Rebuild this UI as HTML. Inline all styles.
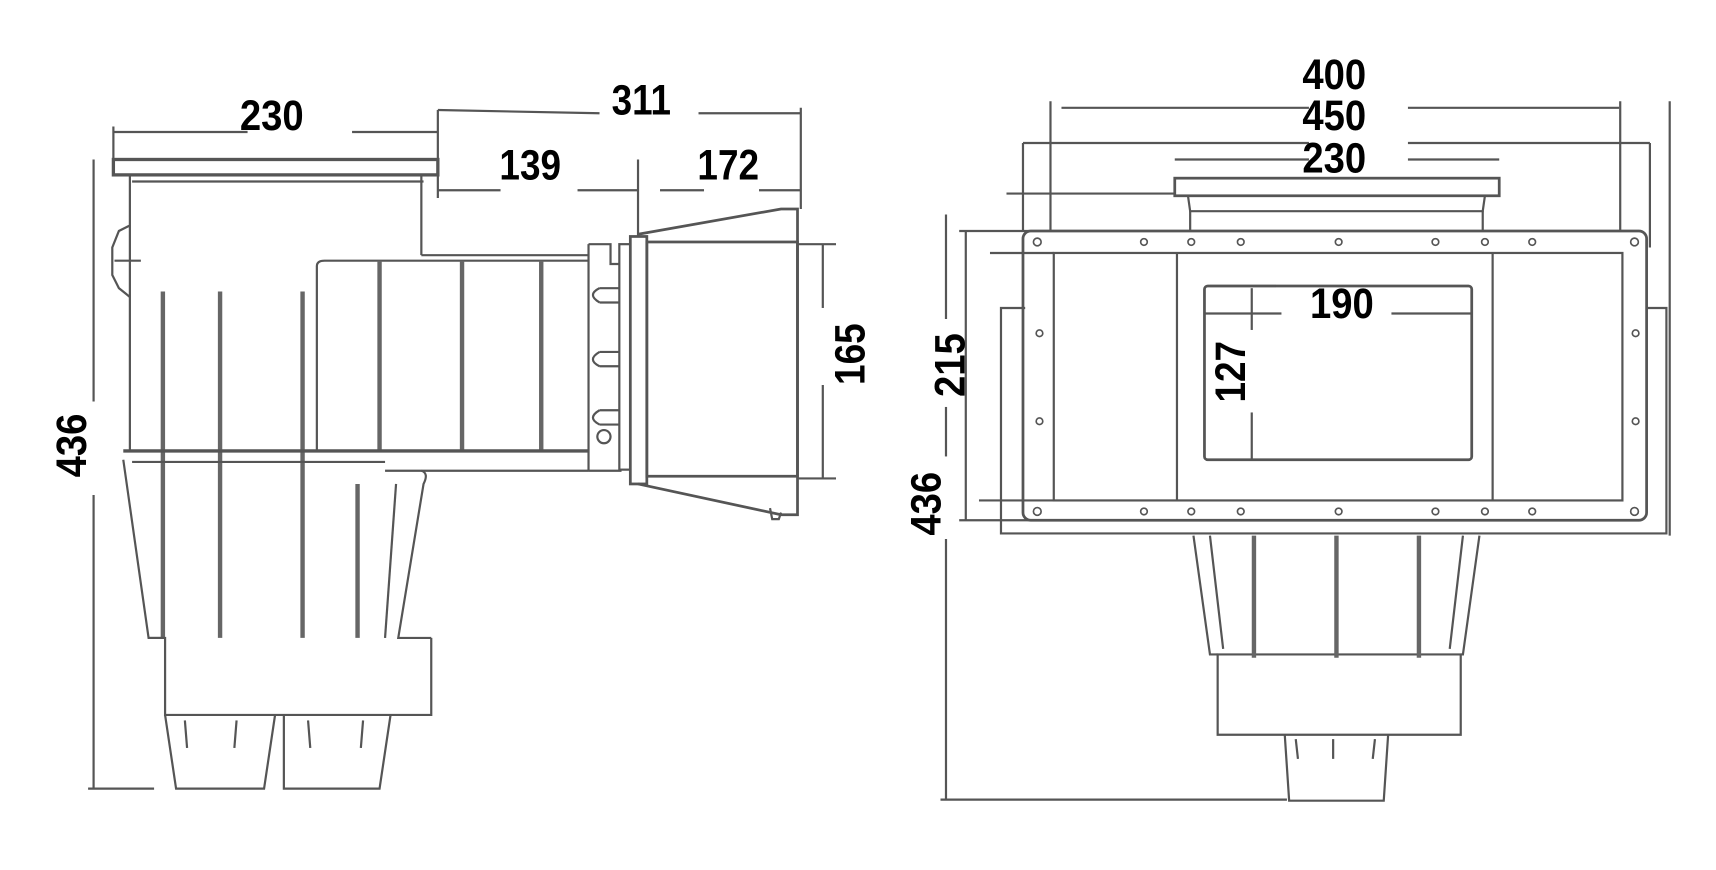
<!DOCTYPE html>
<html><head><meta charset="utf-8"><style>
html,body{margin:0;padding:0;background:#fff;}
svg{display:block}
text{font-family:"Liberation Sans",sans-serif;font-size:39px;font-weight:bold;fill:#000;text-anchor:middle}
</style></head><body>
<svg width="1716" height="870" viewBox="0 0 1560 791" xmlns="http://www.w3.org/2000/svg">
<g fill="none" stroke="#555" stroke-width="2">
<!-- LEFT VIEW dims -->
<line x1="103" y1="120" x2="225" y2="120"/><line x1="320" y1="120" x2="398" y2="120"/>
<line x1="103" y1="115" x2="103" y2="145"/>
<line x1="398" y1="100" x2="545" y2="103"/><line x1="635" y1="103" x2="728" y2="103"/>
<line x1="398" y1="100" x2="398" y2="180"/>
<line x1="398" y1="173" x2="455" y2="173"/><line x1="525" y1="173" x2="580" y2="173"/><line x1="600" y1="173" x2="640" y2="173"/><line x1="690" y1="173" x2="728" y2="173"/>
<line x1="580" y1="145" x2="580" y2="215"/><line x1="728" y1="98" x2="728" y2="190"/>
<line x1="85" y1="145" x2="85" y2="365"/><line x1="85" y1="450" x2="85" y2="717"/>
<line x1="80" y1="717" x2="140" y2="717"/>
<line x1="748" y1="222" x2="748" y2="280"/><line x1="748" y1="350" x2="748" y2="435"/>
<line x1="725" y1="222" x2="760" y2="222"/><line x1="725" y1="435" x2="760" y2="435"/>
<!-- top flange -->
<rect x="103" y="145" width="295" height="14" stroke-width="3"/>
<line x1="120" y1="165" x2="385" y2="165"/>
<line x1="118" y1="160" x2="118" y2="410"/><line x1="383" y1="160" x2="383" y2="232"/>
<!-- handle -->
<path d="M118 205 L108 210 L102 225 L102 250 L108 262 L118 270"/>
<line x1="104" y1="237" x2="128" y2="237"/>
<!-- tube -->
<line x1="383" y1="232" x2="535" y2="232"/>
<path d="M288 410 L288 242 Q288 237 295 237 L535 237"/>
<line x1="535" y1="222" x2="535" y2="428"/>
<!-- ribs -->
<g stroke-width="4" stroke="#666">
<line x1="148" y1="265" x2="148" y2="580"/><line x1="200" y1="265" x2="200" y2="580"/>
<line x1="275" y1="265" x2="275" y2="580"/><line x1="325" y1="440" x2="325" y2="580"/>
<line x1="345" y1="237" x2="345" y2="410"/><line x1="420" y1="237" x2="420" y2="410"/><line x1="492" y1="237" x2="492" y2="410"/>
</g>
<!-- horizontal bar -->
<line x1="112" y1="410" x2="535" y2="410" stroke-width="3"/>
<line x1="120" y1="420" x2="350" y2="420"/>
<line x1="350" y1="428" x2="535" y2="428"/>
<!-- lower body -->
<path d="M112 418 L135 580 L148 580"/>
<path d="M383 428 Q390 430 385 440 L362 580 L392 580"/>
<path d="M360 440 L350 580"/>
<path d="M135 580 L150 580 L150 650 L392 650 L392 580"/>
<path d="M150 650 L160 717 L240 717 L250 650"/>
<path d="M258 650 L258 717 L345 717 L355 650"/>
<path d="M168 655 L170 680 M215 655 L213 680 M280 655 L282 680 M330 655 L328 680"/>
<!-- connector -->
<path d="M535 222 L555 222 L555 240 L563 240 M535 428 L565 428"/>
<rect x="563" y="222" width="10" height="205"/>
<path d="M545 262 L563 262 M545 275 L563 275 M545 262 Q533 268 545 275"/>
<path d="M545 320 L563 320 M545 333 L563 333 M545 320 Q533 327 545 333"/>
<path d="M545 373 L563 373 M545 386 L563 386 M545 373 Q533 380 545 386"/>
<circle cx="549" cy="397" r="6"/>
<rect x="573" y="215" width="15" height="225" stroke-width="2.5"/>
<rect x="588" y="220" width="137" height="213" stroke-width="2.5"/>
<path d="M580 213 L710 190 L725 190 L725 468 L710 468 L580 440" stroke-width="2.5"/>
<path d="M700 462 L702 472 L708 472 L710 466"/>
<!-- RIGHT VIEW dims -->
<line x1="965" y1="98" x2="1190" y2="98"/><line x1="1280" y1="98" x2="1472" y2="98"/>
<line x1="955" y1="92" x2="955" y2="210"/><line x1="1473" y1="92" x2="1473" y2="210"/>
<line x1="930" y1="130" x2="1190" y2="130"/><line x1="1280" y1="130" x2="1500" y2="130"/>
<line x1="930" y1="130" x2="930" y2="210"/><line x1="1500" y1="130" x2="1500" y2="225"/>
<line x1="1068" y1="145" x2="1190" y2="145"/><line x1="1280" y1="145" x2="1363" y2="145"/>
<line x1="1518" y1="92" x2="1518" y2="487"/>
<line x1="878" y1="210" x2="878" y2="473"/>
<line x1="872" y1="210" x2="935" y2="210"/><line x1="872" y1="473" x2="935" y2="473"/>
<line x1="900" y1="230" x2="958" y2="230"/><line x1="890" y1="455" x2="958" y2="455"/>
<line x1="860" y1="195" x2="860" y2="290"/><line x1="860" y1="370" x2="860" y2="415"/><line x1="860" y1="490" x2="860" y2="727"/>
<line x1="855" y1="727" x2="1170" y2="727"/>
<line x1="915" y1="176" x2="1068" y2="176"/>
<!-- lid -->
<rect x="1068" y="162" width="295" height="16" stroke-width="2.5"/>
<path d="M1080 178 L1082 192 L1348 192 L1350 178"/>
<line x1="1082" y1="192" x2="1082" y2="210"/><line x1="1348" y1="192" x2="1348" y2="210"/>
<!-- back plate -->
<path d="M932 280 L910 280 L910 485 L1515 485 L1515 280 L1497 280"/>
<!-- flange -->
<rect x="930" y="210" width="567" height="263" rx="7" stroke-width="2.5"/>
<rect x="958" y="230" width="517" height="225"/>
<line x1="1070" y1="230" x2="1070" y2="455"/><line x1="1357" y1="230" x2="1357" y2="455"/>
<rect x="1095" y="260" width="243" height="158" rx="3" stroke-width="2.5"/>
<line x1="1095" y1="285" x2="1165" y2="285"/><line x1="1265" y1="285" x2="1338" y2="285"/>
<line x1="1100" y1="260" x2="1160" y2="260"/>
<line x1="1138" y1="262" x2="1138" y2="300"/><line x1="1138" y1="375" x2="1138" y2="417"/>
<!-- holes -->
<g stroke-width="1.5">
<circle cx="943" cy="220" r="3.5"/><circle cx="1040" cy="220" r="3"/><circle cx="1083" cy="220" r="3"/><circle cx="1128" cy="220" r="3"/><circle cx="1217" cy="220" r="3"/><circle cx="1305" cy="220" r="3"/><circle cx="1350" cy="220" r="3"/><circle cx="1393" cy="220" r="3"/><circle cx="1486" cy="220" r="3.5"/>
<circle cx="943" cy="465" r="3.5"/><circle cx="1040" cy="465" r="3"/><circle cx="1083" cy="465" r="3"/><circle cx="1128" cy="465" r="3"/><circle cx="1217" cy="465" r="3"/><circle cx="1305" cy="465" r="3"/><circle cx="1350" cy="465" r="3"/><circle cx="1393" cy="465" r="3"/><circle cx="1486" cy="465" r="3.5"/>
<circle cx="945" cy="303" r="3"/><circle cx="945" cy="383" r="3"/><circle cx="1487" cy="303" r="3"/><circle cx="1487" cy="383" r="3"/>
</g>
<!-- lower right -->
<path d="M1085 487 L1100 595 L1107 595"/><path d="M1345 487 L1330 595 L1328 595"/>
<path d="M1100 487 L1112 590 M1330 487 L1318 590"/>
<path d="M1107 595 L1107 668 L1328 668 L1328 595 Z"/>
<path d="M1168 668 L1172 728 L1258 728 L1262 668"/>
<path d="M1178 672 L1180 690 M1212 672 L1212 690 M1250 672 L1248 690"/>
<g stroke-width="4" stroke="#666">
<line x1="1140" y1="487" x2="1140" y2="598"/><line x1="1215" y1="487" x2="1215" y2="598"/><line x1="1290" y1="487" x2="1290" y2="598"/>
</g>
</g>
<!-- labels -->
<text x="247" y="118" textLength="58" lengthAdjust="spacingAndGlyphs">230</text>
<text x="583" y="104" textLength="54" lengthAdjust="spacingAndGlyphs">311</text>
<text x="482" y="163" textLength="56" lengthAdjust="spacingAndGlyphs">139</text>
<text x="662" y="163" textLength="56" lengthAdjust="spacingAndGlyphs">172</text>
<text transform="translate(78,405) rotate(-90)" textLength="58" lengthAdjust="spacingAndGlyphs">436</text>
<text transform="translate(786,322) rotate(-90)" textLength="56" lengthAdjust="spacingAndGlyphs">165</text>
<text x="1213" y="81" textLength="58" lengthAdjust="spacingAndGlyphs">400</text>
<text x="1213" y="118" textLength="58" lengthAdjust="spacingAndGlyphs">450</text>
<text x="1213" y="157" textLength="58" lengthAdjust="spacingAndGlyphs">230</text>
<text x="1220" y="289" textLength="58" lengthAdjust="spacingAndGlyphs">190</text>
<text transform="translate(1132,338) rotate(-90)" textLength="56" lengthAdjust="spacingAndGlyphs">127</text>
<text transform="translate(877,332) rotate(-90)" textLength="58" lengthAdjust="spacingAndGlyphs">215</text>
<text transform="translate(855,458) rotate(-90)" textLength="58" lengthAdjust="spacingAndGlyphs">436</text>
</svg>
</body></html>
